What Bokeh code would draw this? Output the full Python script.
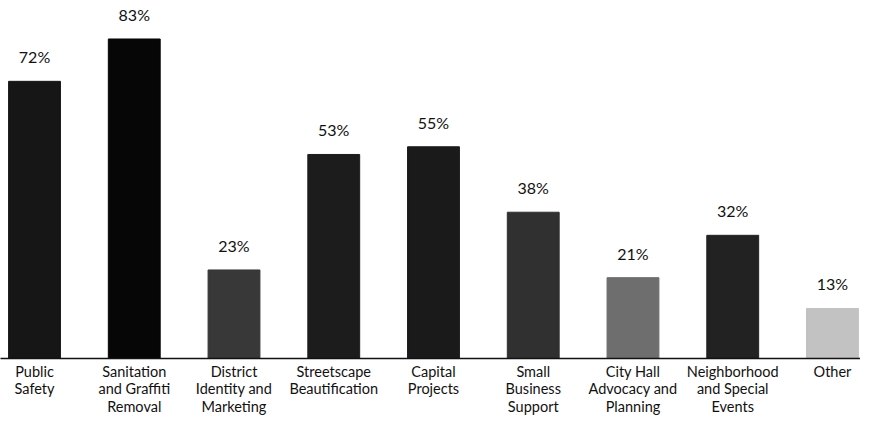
from bokeh.plotting import figure
from bokeh.models import ColumnDataSource, Range1d, FixedTicker
from bokeh.core.properties import value
from bokeh.embed import file_html
from bokeh.resources import INLINE

categories = ["Public\nSafety", "Sanitation\nand Graffiti\nRemoval", "District\nIdentity and\nMarketing",
              "Streetscape\nBeautification", "Capital\nProjects", "Small\nBusiness\nSupport",
              "City Hall\nAdvocacy and\nPlanning", "Neighborhood\nand Special\nEvents", "Other"]
values = [72, 83, 23, 53, 55, 38, 21, 32, 13]
labels = ["72%", "83%", "23%", "53%", "55%", "38%", "21%", "32%", "13%"]
colors = ["#161616", "#060606", "#383838", "#1c1c1c", "#1a1a1a", "#303030", "#6e6e6e", "#222222", "#c2c2c2"]

xs = list(range(len(categories)))
src = ColumnDataSource(dict(x=xs, top=values, lab=labels, color=colors))

FONT = "Lato"

p = figure(width=860, height=418, output_backend="svg", toolbar_location=None,
           x_range=Range1d(-0.341, 8.281), y_range=Range1d(0, 93.0),
           min_border_left=0, min_border_right=0, min_border_top=0, min_border_bottom=54,
           y_axis_location=None)
p.outline_line_color = None
p.xgrid.visible = False
p.ygrid.visible = False

p.vbar(x="x", top="top", bottom=0, width=0.52, fill_color="color", line_color="color", source=src)
p.text(x="x", y="top", text="lab", source=src, text_align="center", text_baseline="bottom",
       y_offset=-15, text_font=value(FONT), text_font_size="16px", text_color="#111111")

ax = p.xaxis[0]
ax.ticker = FixedTicker(ticks=xs)
ax.major_label_overrides = {i: c for i, c in enumerate(categories)}
ax.major_tick_line_color = None
ax.major_tick_out = 0
ax.major_tick_in = 0
ax.minor_tick_line_color = None
ax.minor_tick_out = 0
ax.axis_line_color = "#111111"
ax.axis_line_width = 1.5
ax.major_label_text_font = FONT
ax.major_label_text_font_size = "14.5px"
ax.major_label_text_line_height = 1.05
ax.major_label_text_color = "#111111"
ax.major_label_standoff = 4

open("out.html", "w").write(file_html(p, INLINE))
